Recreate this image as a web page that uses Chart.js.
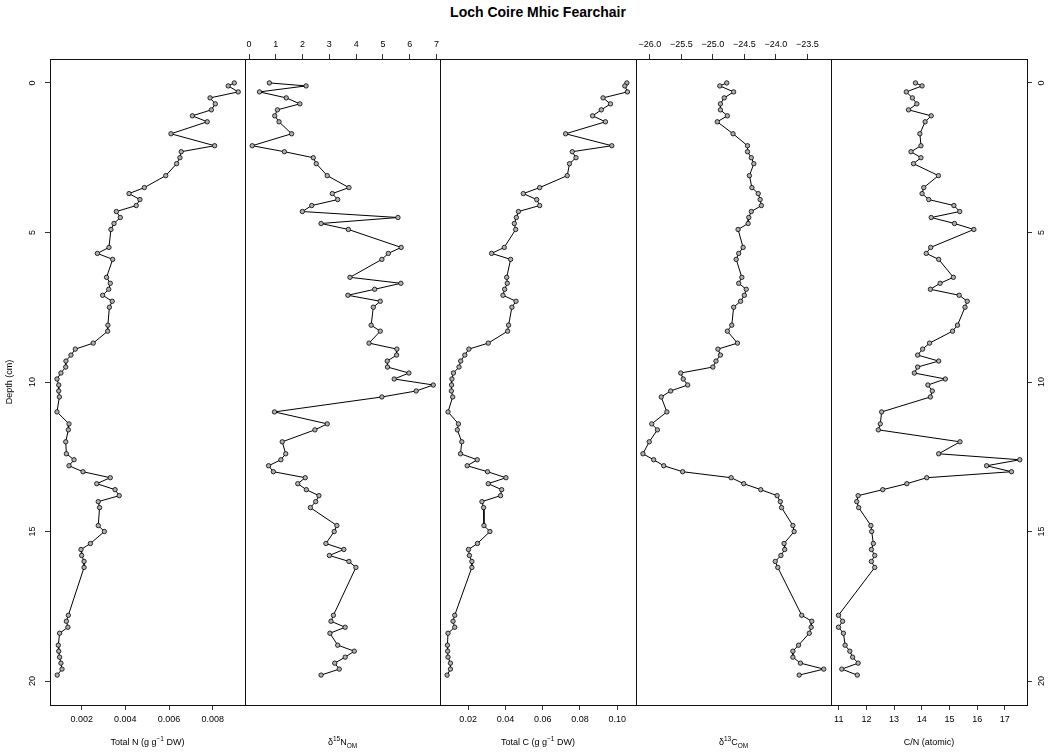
<!DOCTYPE html>
<html>
<head>
<meta charset="utf-8">
<script src="https://cdn.jsdelivr.net/npm/chart.js@4.4.0/dist/chart.umd.min.js"></script>
<style>
  body { margin: 0; background: #fff; }
  #wrap { position: relative; width: 1048px; height: 756px; font-family: "Liberation Sans", Arial, sans-serif; }
  #wrap canvas { position: absolute; left: 0; top: 0; }
  .lbl { position: absolute; font-size: 9px; white-space: nowrap; transform: translate(-50%, -50%); color: #000; }
  .lbl sup, .lbl sub { font-size: 6.5px; line-height: 0; }
  #title { position: absolute; left: 538px; top: 12px; transform: translate(-50%, -50%); font-size: 14px; font-weight: bold; white-space: nowrap; }
</style>
</head>
<body>
<div id="wrap">
  <div id="title">Loch Coire Mhic Fearchair</div>
</div>
<script>
// depth of each sample (cm)
let depth = [0.0, 0.1, 0.3, 0.5, 0.7, 0.9, 1.1, 1.3, 1.7, 2.1, 2.3, 2.5, 2.7, 3.1, 3.5, 3.7, 3.9,
  4.1, 4.3, 4.5, 4.7, 4.9, 5.5, 5.7, 5.9, 6.5, 6.7, 6.9, 7.1, 7.3, 7.5, 8.1, 8.3, 8.7, 8.9,
  9.1, 9.3, 9.5, 9.7, 9.9, 10.1, 10.3, 10.5, 11.0, 11.4, 11.6, 12.0, 12.4, 12.6, 12.8,
  13.0, 13.2, 13.4, 13.6, 13.8, 14.0, 14.2, 14.8, 15.0, 15.4, 15.6, 15.8, 16.0, 16.2,
  17.8, 18.0, 18.2, 18.4, 18.8, 19.0, 19.2, 19.4, 19.6, 19.8];

let totalN = [0.00899, 0.00871, 0.00917, 0.00788, 0.00812, 0.00794, 0.00707, 0.00775, 0.00609,
  0.00809, 0.00656, 0.00650, 0.00635, 0.00585, 0.00487, 0.00417, 0.00467, 0.00450, 0.00359,
  0.00377, 0.00348, 0.00334, 0.00325, 0.00272, 0.00342, 0.00314, 0.00331, 0.00324, 0.00296,
  0.00340, 0.00327, 0.00320, 0.00319, 0.00253, 0.00171, 0.00151, 0.00128, 0.00127, 0.00105,
  0.00087, 0.00095, 0.00095, 0.00098, 0.00087, 0.00142, 0.00139, 0.00127, 0.00130, 0.00165,
  0.00142, 0.00206, 0.00331, 0.00269, 0.00353, 0.00372, 0.00276, 0.00282, 0.00276, 0.00304,
  0.00240, 0.00197, 0.00200, 0.00211, 0.00211, 0.00139, 0.00130, 0.00137, 0.00099, 0.00093,
  0.00095, 0.00099, 0.00105, 0.00110, 0.00088];

let d15N = [0.76, 2.13, 0.39, 1.39, 1.90, 1.06, 0.96, 1.12, 1.59, 0.12, 1.32, 2.40, 2.51, 2.92,
  3.73, 3.11, 3.31, 2.34, 1.99, 5.56, 2.69, 3.71, 5.68, 5.20, 4.96, 3.77, 5.67, 4.69, 3.69,
  4.90, 4.64, 4.56, 4.90, 4.48, 5.52, 5.51, 5.16, 5.17, 5.97, 5.42, 6.88, 6.24, 4.96, 0.95,
  2.92, 2.46, 1.24, 1.37, 1.19, 0.73, 0.91, 2.10, 1.82, 2.14, 2.61, 2.49, 2.29, 3.28, 3.18,
  2.87, 3.54, 3.00, 3.73, 3.99, 3.15, 3.06, 3.59, 3.02, 3.31, 3.93, 3.59, 3.20, 3.37, 2.69];

let totalC = [0.1052, 0.1041, 0.1055, 0.0924, 0.0964, 0.0915, 0.0868, 0.0937, 0.0723, 0.0971,
  0.0759, 0.0779, 0.0744, 0.0732, 0.0584, 0.0496, 0.0568, 0.0584, 0.0470, 0.0459, 0.0448,
  0.0455, 0.0394, 0.0326, 0.0428, 0.0407, 0.0410, 0.0396, 0.0387, 0.0457, 0.0435, 0.0417,
  0.0412, 0.0308, 0.0204, 0.0182, 0.0160, 0.0151, 0.0121, 0.0113, 0.0111, 0.0110, 0.0117,
  0.0092, 0.0148, 0.0142, 0.0166, 0.0159, 0.0249, 0.0195, 0.0304, 0.0403, 0.0308, 0.0380,
  0.0374, 0.0274, 0.0283, 0.0285, 0.0317, 0.0250, 0.0202, 0.0207, 0.0220, 0.0220, 0.0128,
  0.0119, 0.0128, 0.0092, 0.0089, 0.0090, 0.0092, 0.0105, 0.0105, 0.0087];

let d13C = [-24.78, -24.89, -24.67, -24.82, -24.88, -24.88, -24.77, -24.93, -24.68, -24.45,
  -24.45, -24.39, -24.35, -24.42, -24.38, -24.28, -24.25, -24.23, -24.39, -24.43, -24.44,
  -24.60, -24.52, -24.59, -24.63, -24.54, -24.59, -24.47, -24.50, -24.56, -24.67, -24.70,
  -24.77, -24.61, -24.92, -24.88, -24.95, -25.00, -25.51, -25.47, -25.40, -25.67, -25.82,
  -25.73, -25.97, -25.88, -26.01, -26.11, -25.94, -25.78, -25.48, -24.71, -24.51, -24.24,
  -23.98, -23.93, -23.91, -23.73, -23.71, -23.87, -23.86, -23.92, -24.01, -23.97, -23.59,
  -23.43, -23.44, -23.47, -23.64, -23.73, -23.73, -23.61, -23.24, -23.63];

let cnRatio = [13.77, 14.01, 13.44, 13.66, 13.82, 13.52, 14.34, 14.12, 13.93, 13.97, 13.61,
  13.97, 13.70, 14.60, 14.07, 14.01, 14.25, 15.16, 15.37, 14.34, 15.18, 15.88, 14.32, 14.16,
  14.61, 15.14, 14.66, 14.31, 15.35, 15.64, 15.56, 15.29, 15.11, 14.28, 14.03, 13.85, 14.61,
  13.85, 13.73, 14.85, 14.22, 14.38, 14.31, 12.55, 12.50, 12.43, 15.38, 14.61, 17.54, 16.34,
  17.24, 14.18, 13.46, 12.59, 11.70, 11.65, 11.72, 12.16, 12.19, 12.25, 12.18, 12.30, 12.18,
  12.30, 10.99, 11.14, 10.99, 11.17, 11.23, 11.40, 11.50, 11.70, 11.11, 11.67];

// tick values and labels
let depthTicks = [0, 5, 10, 15, 20];
let depthTickLabels = ["0", "5", "10", "15", "20"];
let nTicks = [0.002, 0.004, 0.006, 0.008];
let nTickLabels = ["0.002", "0.004", "0.006", "0.008"];
let d15NTicks = [0, 1, 2, 3, 4, 5, 6, 7];
let d15NTickLabels = ["0", "1", "2", "3", "4", "5", "6", "7"];
let cTicks = [0.02, 0.04, 0.06, 0.08, 0.10];
let cTickLabels = ["0.02", "0.04", "0.06", "0.08", "0.10"];
let d13CTicks = [-26.0, -25.5, -25.0, -24.5, -24.0, -23.5];
let d13CTickLabels = ["\u221226.0", "\u221225.5", "\u221225.0", "\u221224.5", "\u221224.0", "\u221223.5"];
let cnTicks = [11, 12, 13, 14, 15, 16, 17];
let cnTickLabels = ["11", "12", "13", "14", "15", "16", "17"];

let axisTitles = [
  "Total N (g g<sup>\u22121</sup> DW)",
  "\u03b4<sup>15</sup>N<sub>OM</sub>",
  "Total C (g g<sup>\u22121</sup> DW)",
  "\u03b4<sup>13</sup>C<sub>OM</sub>",
  "C/N (atomic)"
];

const W = 1048, H = 756, TOP = 59, BOTTOM = 705;
const font = { family: "'Liberation Sans', Arial, sans-serif", size: 9 };

const panels = [
  { values: totalN, ticks: nTicks, labels: nTickLabels, min: 0.00055, max: 0.00948, side: "bottom", left: 50, right: 245 },
  { values: d15N, ticks: d15NTicks, labels: d15NTickLabels, min: -0.15, max: 7.13, side: "top", left: 245, right: 440 },
  { values: totalC, ticks: cTicks, labels: cTickLabels, min: 0.0049, max: 0.1101, side: "bottom", left: 440, right: 636 },
  { values: d13C, ticks: d13CTicks, labels: d13CTickLabels, min: -26.22, max: -23.125, side: "top", left: 636, right: 831 },
  { values: cnRatio, ticks: cnTicks, labels: cnTickLabels, min: 10.72, max: 17.8, side: "bottom", left: 831, right: 1027 }
];

// box round each panel
const framePlugin = {
  id: "frame",
  beforeDatasetsDraw(chart) {
    const a = chart.chartArea;
    const ctx = chart.ctx;
    ctx.save();
    ctx.strokeStyle = "#111";
    ctx.lineWidth = 1;
    ctx.strokeRect(Math.round(a.left) + 0.5, Math.round(a.top) + 0.5,
      Math.round(a.right - a.left), Math.round(a.bottom - a.top));
    ctx.restore();
  }
};

const wrap = document.getElementById("wrap");

panels.forEach((p, i) => {
  const canvas = document.createElement("canvas");
  canvas.width = W;
  canvas.height = H;
  wrap.appendChild(canvas);
  const onTop = p.side === "top";
  const first = i === 0;
  const last = i === panels.length - 1;

  const chart = new Chart(canvas, {
    type: "scatter",
    data: {
      datasets: [{
        data: p.values.map((v, k) => ({ x: v, y: depth[k] })),
        showLine: true,
        borderColor: "#000",
        borderWidth: 1,
        tension: 0,
        pointRadius: 2.2,
        pointBorderWidth: 0.8,
        pointBorderColor: "#000",
        pointBackgroundColor: "#b0b0b0"
      }]
    },
    options: {
      responsive: false,
      animation: false,
      devicePixelRatio: 1,
      layout: {
        padding: {
          left: first ? 0 : p.left,
          right: last ? 0 : W - p.right,
          top: onTop ? 0 : TOP,
          bottom: onTop ? H - BOTTOM : 0
        }
      },
      plugins: { legend: { display: false }, tooltip: { enabled: false } },
      scales: {
        x: {
          type: "linear",
          position: p.side,
          min: p.min,
          max: p.max,
          afterFit: (s) => { s.height = onTop ? TOP : H - BOTTOM; },
          afterBuildTicks: (s) => { s.ticks = p.ticks.map((v) => ({ value: v })); },
          grid: { drawOnChartArea: false, tickLength: 5, color: "#333" },
          border: { display: false },
          ticks: {
            padding: 4,
            font: font,
            color: "#000",
            autoSkip: false,
            maxRotation: 0,
            callback: (v, k) => p.labels[k]
          }
        },
        y: {
          type: "linear",
          reverse: true,
          min: -0.8,
          max: 20.8,
          display: first || last,
          position: last ? "right" : "left",
          afterFit: (s) => {
            if (first) s.width = p.left;
            else if (last) s.width = W - p.right;
            else s.width = 0;
          },
          afterBuildTicks: (s) => { s.ticks = depthTicks.map((v) => ({ value: v })); },
          grid: { drawOnChartArea: false, tickLength: 5, color: "#333" },
          border: { display: false },
          ticks: {
            padding: first ? 7 : 5,
            font: font,
            color: "#000",
            minRotation: 90,
            maxRotation: 90,
            crossAlign: "center",
            callback: (v, k) => depthTickLabels[k]
          },
          title: {
            display: first,
            text: "Depth (cm)",
            font: font,
            color: "#000",
            padding: { top: 4, bottom: 0 }
          }
        }
      }
    },
    plugins: [framePlugin]
  });

  const lbl = document.createElement("div");
  lbl.className = "lbl";
  lbl.innerHTML = axisTitles[i];
  lbl.style.left = (chart.chartArea.left + chart.chartArea.right) / 2 + "px";
  lbl.style.top = "742px";
  wrap.appendChild(lbl);
});
</script>
</body>
</html>
